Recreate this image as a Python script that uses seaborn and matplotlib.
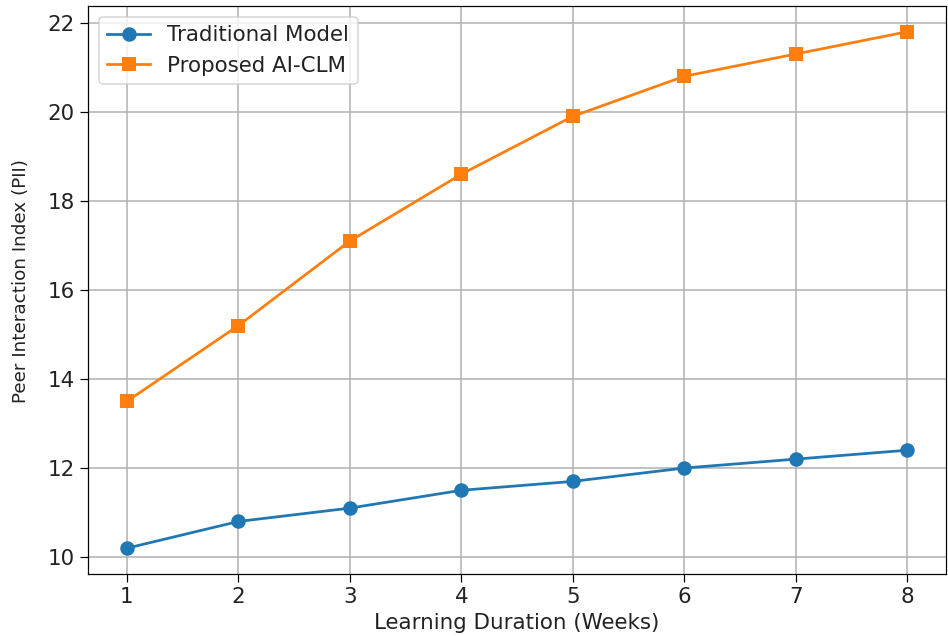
import pandas as pd
import seaborn as sns
import matplotlib.pyplot as plt

weeks = [1, 2, 3, 4, 5, 6, 7, 8]
traditional = [10.2, 10.8, 11.1, 11.5, 11.7, 12.0, 12.2, 12.4]
proposed = [13.5, 15.2, 17.1, 18.6, 19.9, 20.8, 21.3, 21.8]
series_names = ["Traditional Model", "Proposed AI-CLM"]

df = pd.DataFrame({
    "week": weeks * 2,
    "pii": traditional + proposed,
    "model": [series_names[0]] * len(weeks) + [series_names[1]] * len(weeks),
})

plt.rcParams["font.family"] = "DejaVu Sans"
plt.rcParams["font.size"] = 14
plt.rcParams["text.color"] = "#222222"
plt.rcParams["axes.labelcolor"] = "#222222"
plt.rcParams["xtick.labelcolor"] = "#222222"
plt.rcParams["ytick.labelcolor"] = "#222222"

fig = plt.figure(figsize=(948 / 110, 636 / 110), dpi=110)
ax = fig.add_axes([0.0928, 0.0975, 0.9051, 0.8931])

sns.lineplot(
    data=df, x="week", y="pii", hue="model", style="model",
    hue_order=series_names, style_order=series_names,
    palette=["#1f77b4", "#ff7f0e"],
    markers={series_names[0]: "o", series_names[1]: "s"},
    dashes=False, markersize=9.5, markeredgewidth=0, linewidth=1.8, ax=ax,
)

ax.grid(True, color="#b0b0b0", linewidth=1.0)
ax.set_axisbelow(True)
ax.tick_params(length=5)
ax.set_xlabel("Learning Duration (Weeks)", labelpad=4)
ax.set_ylabel("Peer Interaction Index (PII)", fontsize=12)
ax.yaxis.set_label_coords(-0.068, 0.516)
ax.set_xticks(weeks)
ax.legend(loc="upper left", title=None)

fig.savefig("out.png", dpi=110)
